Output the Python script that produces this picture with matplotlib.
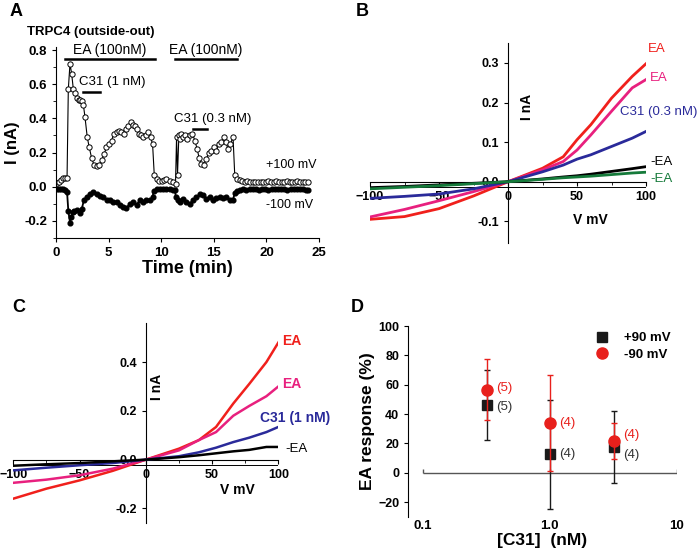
import matplotlib
matplotlib.use("Agg")
import matplotlib.pyplot as plt
import matplotlib.patches as mpatches
from matplotlib.lines import Line2D
import numpy as np

plt.rcParams["font.family"] = ["Liberation Sans", "DejaVu Sans"]

# ---------------------------------------------------------------------------
# Data
# ---------------------------------------------------------------------------

# A: time course, +100 mV (open circles)
pos_t = [0.1, 0.3, 0.5, 0.7, 0.9, 1.05, 1.17, 1.33, 1.49, 1.65, 1.8, 2.0, 2.15,
         2.28, 2.44, 2.6, 2.75, 2.97, 3.16, 3.38, 3.6, 3.86, 4.1, 4.34, 4.56,
         4.8, 5.06, 5.28, 5.5, 5.76, 6.0, 6.22, 6.45, 6.65, 6.87, 7.09, 7.28,
         7.5, 7.66, 7.85, 8.04, 8.29, 8.54, 8.77, 8.99, 9.18, 9.34, 9.56, 9.8,
         10.1, 10.3, 10.5, 10.8, 11.1, 11.36, 11.46, 11.55, 11.68, 11.8, 11.93,
         12.1, 12.25, 12.47, 12.72, 12.97, 13.2, 13.42, 13.6, 13.83, 14.05,
         14.3, 14.5, 14.78, 15.0, 15.25, 15.47, 15.73, 15.95, 16.14, 16.36,
         16.58, 16.83, 16.99, 17.2, 17.45, 17.7, 17.95, 18.2, 18.45, 18.7,
         18.95, 19.2, 19.45, 19.7, 19.95, 20.2, 20.45, 20.7, 20.95, 21.2,
         21.45, 21.7, 21.95, 22.2, 22.45, 22.7, 22.95, 23.2, 23.45, 23.7, 23.95]
pos_I = [0.02, 0.03, 0.04, 0.05, 0.05, 0.05, 0.57, 0.72, 0.66, 0.57, 0.55,
         0.52, 0.51, 0.51, 0.50, 0.48, 0.41, 0.29, 0.23, 0.17, 0.13, 0.12,
         0.13, 0.155, 0.19, 0.23, 0.25, 0.27, 0.31, 0.32, 0.325, 0.32, 0.31,
         0.335, 0.355, 0.38, 0.36, 0.355, 0.335, 0.31, 0.30, 0.29, 0.30, 0.32,
         0.29, 0.25, 0.07, 0.045, 0.035, 0.035, 0.04, 0.045, 0.035, 0.025,
         0.015, 0.29, 0.07, 0.30, 0.28, 0.31, 0.29, 0.30, 0.28, 0.30, 0.31,
         0.27, 0.22, 0.17, 0.135, 0.13, 0.16, 0.20, 0.21, 0.23, 0.21, 0.25,
         0.26, 0.29, 0.26, 0.22, 0.25, 0.29, 0.07, 0.045, 0.04, 0.035, 0.03,
         0.035, 0.03, 0.025, 0.03, 0.025, 0.03, 0.025, 0.03, 0.035, 0.025,
         0.03, 0.035, 0.03, 0.025, 0.03, 0.035, 0.03, 0.025, 0.03, 0.035,
         0.03, 0.025, 0.03, 0.025]

# A: time course, -100 mV (filled circles)
neg_t = [0.1, 0.3, 0.5, 0.7, 0.9, 1.05, 1.17, 1.33, 1.45, 1.58, 1.75, 2.0,
         2.28, 2.45, 2.66, 2.91, 3.23, 3.54, 3.86, 4.18, 4.5, 4.81, 5.13, 5.44,
         5.76, 6.08, 6.4, 6.7, 7.02, 7.34, 7.66, 7.97, 8.29, 8.6, 8.92, 9.18,
         9.3, 9.6, 9.9, 10.2, 10.5, 10.8, 11.1, 11.3, 11.4, 11.55, 11.77, 12.1,
         12.4, 12.72, 13.04, 13.35, 13.67, 14.0, 14.3, 14.62, 14.94, 15.25,
         15.57, 15.9, 16.2, 16.5, 16.8, 16.99, 17.2, 17.5, 17.8, 18.1, 18.4,
         18.7, 19.0, 19.3, 19.6, 19.9, 20.2, 20.5, 20.8, 21.1, 21.4, 21.7,
         22.0, 22.3, 22.6, 22.9, 23.2, 23.5, 23.8, 24.0]
neg_I = [-0.015, -0.015, -0.013, -0.015, -0.018, -0.03, -0.14, -0.21, -0.18,
         -0.15, -0.14, -0.135, -0.155, -0.13, -0.077, -0.06, -0.043, -0.033,
         -0.04, -0.052, -0.062, -0.075, -0.08, -0.09, -0.087, -0.105, -0.116,
         -0.124, -0.10, -0.09, -0.105, -0.08, -0.09, -0.08, -0.077, -0.06,
         -0.023, -0.015, -0.015, -0.013, -0.015, -0.015, -0.017, -0.019,
         -0.062, -0.08, -0.09, -0.072, -0.09, -0.10, -0.077, -0.062, -0.043,
         -0.048, -0.072, -0.062, -0.077, -0.066, -0.062, -0.066, -0.062,
         -0.077, -0.08, -0.039, -0.023, -0.018, -0.016, -0.017, -0.015,
         -0.016, -0.015, -0.017, -0.016, -0.015, -0.017, -0.016, -0.015,
         -0.014, -0.016, -0.015, -0.017, -0.015, -0.016, -0.014, -0.012,
         -0.016, -0.017, -0.017]

# A: application bars (start, end, level) and labels
ea_bars = [(0.85, 9.4, 0.745), (11.3, 17.2, 0.745)]
ea_labels = ["EA (100nM)", "EA (100nM)"]
c31_bars = [(2.55, 4.2, 0.555), (13.0, 14.35, 0.34)]
c31_labels = ["C31 (1 nM)", "C31 (0.3 nM)"]

# B: I-V curves, C31 0.3 nM
v_b = [-100, -75, -50, -25, 0, 25, 40, 50, 60, 75, 90, 100]
b_ea1 = [-0.095, -0.088, -0.068, -0.036, 0.0, 0.034, 0.063, 0.106, 0.144, 0.211, 0.266, 0.298]
b_ea2 = [-0.089, -0.070, -0.048, -0.025, 0.0, 0.030, 0.051, 0.080, 0.118, 0.178, 0.237, 0.258]
b_c31 = [-0.042, -0.037, -0.031, -0.018, 0.0, 0.025, 0.042, 0.057, 0.068, 0.089, 0.110, 0.127]
b_ctl1 = [-0.015, -0.012, -0.008, -0.004, 0.0, 0.007, 0.012, 0.015, 0.019, 0.026, 0.033, 0.038]
b_ctl2 = [-0.018, -0.014, -0.010, -0.005, 0.0, 0.006, 0.010, 0.012, 0.014, 0.018, 0.022, 0.024]

# C: I-V curves, C31 1 nM
v_c = [-100, -75, -50, -25, 0, 25, 40, 53, 66, 78, 91, 100]
c_ea1 = [-0.160, -0.119, -0.085, -0.046, 0.0, 0.045, 0.080, 0.134, 0.230, 0.310, 0.400, 0.480]
c_ea2 = [-0.095, -0.082, -0.064, -0.037, 0.0, 0.038, 0.080, 0.113, 0.180, 0.220, 0.260, 0.300]
c_c31 = [-0.044, -0.033, -0.023, -0.014, 0.0, 0.014, 0.030, 0.049, 0.072, 0.090, 0.113, 0.134]
c_ctl = [-0.025, -0.019, -0.014, -0.007, 0.0, 0.010, 0.018, 0.026, 0.034, 0.040, 0.052, 0.052]

# D: dose response
conc = [0.32, 1.0, 3.2]
resp_pos = [46, 12.5, 17.5]
err_pos = [24, 37, 24.5]
resp_neg = [56.7, 34, 21.6]
err_neg = [21, 32.5, 12.5]
n_pos = [5, 4, 4]
n_neg = [5, 4, 4]
# vertical nudges (points) of the n-labels, so they don't collide
dy_pos = [-1, 0, -6]
dy_neg = [1, 0, 4]

# ---------------------------------------------------------------------------
# Figure
# ---------------------------------------------------------------------------

fig = plt.figure(figsize=(7, 5.5), dpi=100)


def bold_ticks(ax):
    for lab in ax.get_xticklabels() + ax.get_yticklabels():
        lab.set_fontweight("bold")


# ---- A ----------------------------------------------------------------------
axA = fig.add_axes([0.08, 0.5673, 0.3757, 0.348])
axA.plot(pos_t, pos_I, "-o", color="black", lw=0.8, ms=3.8, mfc="white",
         mec="black", mew=0.7)
axA.plot(neg_t, neg_I, "-o", color="black", lw=1.3, ms=3.4, mfc="black",
         mec="black")
for (t0, t1, lvl), lab in zip(ea_bars, ea_labels):
    axA.plot([t0, t1], [lvl, lvl], color="black", lw=1.8, clip_on=False)
    axA.text((t0 + t1) / 2, lvl + 0.012, lab, ha="center", va="bottom", fontsize=10)
for (t0, t1, lvl), lab in zip(c31_bars, c31_labels):
    axA.plot([t0, t1], [lvl, lvl], color="black", lw=1.8)
axA.text(2.2, 0.575, c31_labels[0], ha="left", va="bottom", fontsize=9.5)
axA.text(11.2, 0.36, c31_labels[1], ha="left", va="bottom", fontsize=9.5)
axA.text(20.0, 0.128, "+100 mV", ha="left", va="center", fontsize=9)
axA.text(20.0, -0.105, "-100 mV", ha="left", va="center", fontsize=9)
axA.set_xlim(0, 25)
axA.set_ylim(-0.3, 0.82)
axA.set_xticks([0, 5, 10, 15, 20, 25])
axA.set_yticks([-0.2, 0.0, 0.2, 0.4, 0.6, 0.8])
axA.set_yticks(np.arange(-0.3, 0.85, 0.1), minor=True)
axA.yaxis.set_major_formatter(plt.FormatStrFormatter("%.1f"))
axA.spines["top"].set_visible(False)
axA.spines["right"].set_visible(False)
axA.tick_params(labelsize=9.5, length=3)
axA.tick_params(which="minor", length=2)
bold_ticks(axA)
axA.set_ylabel("I (nA)", fontsize=12, fontweight="bold", labelpad=3)
axA.set_xlabel("Time (min)", fontsize=13, fontweight="bold", labelpad=1)
fig.text(27 / 700, 1 - 32 / 550, "TRPC4 (outside-out)", fontsize=9.5,
         fontweight="bold", va="center")


def iv_axes(ax, ylim, yticks, box_h):
    ax.set_xlim(-100, 100)
    ax.set_ylim(*ylim)
    ax.spines["left"].set_position(("data", 0))
    ax.spines["bottom"].set_position(("data", 0))
    ax.spines["top"].set_visible(False)
    ax.spines["right"].set_visible(False)
    ax.spines["bottom"].set_bounds(-100, 100)
    ax.set_xticks([-100, -50, 0, 50, 100])
    ax.set_xticks([-75, -25, 25, 75], minor=True)
    ax.set_yticks(yticks)
    ax.yaxis.set_major_formatter(plt.FormatStrFormatter("%.1f"))
    ax.tick_params(labelsize=9, length=3)
    ax.tick_params(axis="x", which="minor", length=2)
    ax.add_patch(mpatches.Rectangle((-100, -box_h), 200, box_h, fill=False,
                                    lw=0.7, ec="black", zorder=1.6))
    bold_ticks(ax)


# ---- B ----------------------------------------------------------------------
axB = fig.add_axes([0.5286, 0.558, 0.3943, 0.3636])
b_series = [(b_ea1, "#f0201c"), (b_ea2, "#e8207e"), (b_c31, "#2a2a9a"),
            (b_ctl1, "black"), (b_ctl2, "#157a3a")]
for ys, col in b_series:
    axB.plot(v_b, ys, color=col, lw=2.0, zorder=3)
iv_axes(axB, (-0.155, 0.35), [-0.1, 0.0, 0.1, 0.2, 0.3], 0.014)
axB.text(101, 0.334, "EA", color="#f0201c", fontsize=9.5, ha="left", va="center")
axB.text(103, 0.262, "EA", color="#e8207e", fontsize=9.5, ha="left", va="center")
axB.text(81, 0.177, "C31 (0.3 nM)", color="#2a2a9a", fontsize=9.5, ha="left", va="center")
axB.text(103, 0.05, "-EA", color="black", fontsize=9.5, ha="left", va="center")
axB.text(103, 0.008, "-EA", color="#157a3a", fontsize=9.5, ha="left", va="center")
axB.text(14, 0.19, "I nA", rotation=90, fontsize=10, fontweight="bold",
         ha="center", va="center")
axB.text(60, -0.097, "V mV", fontsize=10, fontweight="bold", ha="center", va="center")

# ---- C ----------------------------------------------------------------------
axC = fig.add_axes([0.019, 0.049, 0.3786, 0.3636])
c_series = [(c_ea1, "#f0201c"), (c_ea2, "#e8207e"), (c_c31, "#2a2a9a"),
            (c_ctl, "black")]
for ys, col in c_series:
    axC.plot(v_c, ys, color=col, lw=1.8, zorder=3)
iv_axes(axC, (-0.26, 0.56), [-0.2, 0.0, 0.2, 0.4], 0.02)
axC.text(103, 0.485, "EA", color="#f0201c", fontsize=10, fontweight="bold",
         ha="left", va="center")
axC.text(103, 0.31, "EA", color="#e8207e", fontsize=10, fontweight="bold",
         ha="left", va="center")
axC.text(86, 0.17, "C31 (1 nM)", color="#2a2a9a", fontsize=10, fontweight="bold",
         ha="left", va="center")
axC.text(105, 0.045, "-EA", color="black", fontsize=9.5, ha="left", va="center")
axC.text(8.5, 0.30, "I nA", rotation=90, fontsize=10, fontweight="bold",
         ha="center", va="center")
axC.text(69, -0.125, "V mV", fontsize=10, fontweight="bold", ha="center", va="center")

# ---- D ----------------------------------------------------------------------
axD = fig.add_axes([0.5833, 0.0605, 0.3834, 0.3467])
axD.set_xscale("log")
axD.set_xlim(0.077, 10)
axD.set_ylim(-30, 100)
axD.hlines(0, 0.1, 10, color="#555555", lw=1.0)
axD.vlines([0.1, 1.0, 10], 0, 2.5, color="#555555", lw=1.0)
axD.errorbar(conc, resp_pos, yerr=err_pos, fmt="s", color="#1a1a1a", ms=6.5,
             capsize=2, elinewidth=1.0, capthick=1.0, zorder=3)
axD.errorbar(conc, resp_neg, yerr=err_neg, fmt="o", color="#e8201c", ms=8,
             capsize=2, elinewidth=1.0, capthick=1.0, zorder=4)
for x, y, n, dy in zip(conc, resp_pos, n_pos, dy_pos):
    axD.annotate(f"({n})", (x, y), xytext=(7, dy), textcoords="offset points",
                 fontsize=9.5, color="#333333", ha="left", va="center")
for x, y, n, dy in zip(conc, resp_neg, n_neg, dy_neg):
    axD.annotate(f"({n})", (x, y), xytext=(7, dy), textcoords="offset points",
                 fontsize=9.5, color="#e8201c", ha="left", va="center")
axD.set_xticks([0.1, 1.0, 10])
axD.set_xticklabels(["0.1", "1.0", "10"])
axD.xaxis.set_minor_locator(plt.NullLocator())
axD.set_yticks([-20, 0, 20, 40, 60, 80, 100])
axD.spines["top"].set_visible(False)
axD.spines["right"].set_visible(False)
axD.spines["bottom"].set_visible(False)
axD.tick_params(labelsize=9, length=3)
axD.tick_params(axis="x", length=0, pad=2, labelsize=9.5)
bold_ticks(axD)
axD.set_ylabel("EA response (%)", fontsize=12.5, fontweight="bold", labelpad=2)
axD.set_xlabel("[C31]  (nM)", fontsize=12.5, fontweight="bold", labelpad=1)
handles = [Line2D([], [], ls="none", marker="s", color="#1a1a1a", ms=6.5),
           Line2D([], [], ls="none", marker="o", color="#e8201c", ms=8)]
axD.legend(handles, ["+90 mV", "-90 mV"], loc="upper left",
           bbox_to_anchor=(0.63, 1.03), frameon=False, handletextpad=0.6,
           labelspacing=0.3, prop=dict(weight="bold", size=9.5))

# ---- panel letters ----------------------------------------------------------
for lab, x, y in [("A", 10, 12), ("B", 356, 12), ("C", 12, 307), ("D", 351, 307)]:
    fig.text(x / 700, 1 - y / 550, lab, fontsize=13, fontweight="bold",
             ha="left", va="center")

fig.savefig("out.png", dpi=100)
